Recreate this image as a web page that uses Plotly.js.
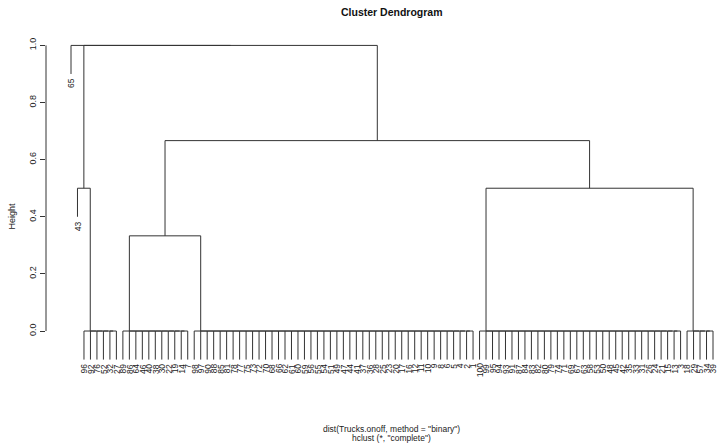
<!DOCTYPE html>
<html>
<head>
<meta charset="utf-8">
<script src="https://cdn.plot.ly/plotly-3.0.1.min.js"></script>
<style>html,body{margin:0;padding:0;background:#fff;}#chart{width:720px;height:444px;}</style>
</head>
<body>
<div id="chart"></div>
<script>
// ---- data ----
const outlierA = "65";
const outlierB = "43";
const group1  = ["96","92","76","52","32","27"];
const group2a = ["89","86","64","46","40","38","30","22","19","14","7"];
const group2b = ["98","97","90","88","85","81","78","77","75","73","72","70","68","66","62","61","60","59","56","55","54","51","49","47","44","41","37","36","28","25","23","20","17","16","12","11","10","9","8","6","5","4","2","1"];
const group3  = ["100","99","95","94","93","91","87","84","83","82","80","79","74","71","69","67","63","58","53","50","48","45","42","35","33","31","26","24","21","15","13","3"];
const group4  = ["18","29","57","34","39"];
const hRoot = 1.0;
const hInner = 1.0;
const h43 = 0.5;
const hMid = 0.6667;
const hLeft = 0.3333;
const hRight = 0.5;
const hTie = 0.0;
const hang = 0.1;
const yTickVals = [0, 0.2, 0.4, 0.6, 0.8, 1.0];
const yTickText = ["0.0", "0.2", "0.4", "0.6", "0.8", "1.0"];

// ---- tree construction ----
function leaf(lab){ return {leaf:true, label:lab}; }
function node(h, a, b){ return {leaf:false, h:h, l:a, r:b}; }
function chain(labels){
  let t = leaf(labels[labels.length-1]);
  for (let i = labels.length-2; i >= 0; i--) t = node(hTie, leaf(labels[i]), t);
  return t;
}
const tree = node(hRoot, leaf(outlierA),
  node(hInner,
    node(h43, leaf(outlierB), chain(group1)),
    node(hMid,
      node(hLeft, chain(group2a), chain(group2b)),
      node(hRight, chain(group3), chain(group4)))));

let counter = 0;
const leaves = [];
function layoutTree(t){
  if (t.leaf){ counter++; t.x = counter; leaves.push(t); return; }
  layoutTree(t.l); layoutTree(t.r);
  t.x = (t.l.x + t.r.x) / 2;
}
layoutTree(tree);

const xs = [], ys = [];
function drawTree(t){
  if (t.leaf) return;
  for (const c of [t.l, t.r]) {
    const bottom = c.leaf ? t.h - hang : c.h;
    if (c.leaf) c.yEnd = bottom;
    xs.push(c.x, c.x, null); ys.push(t.h, bottom, null);
  }
  xs.push(t.l.x, t.r.x, null); ys.push(t.h, t.h, null);
  drawTree(t.l); drawTree(t.r);
}
drawTree(tree);

const nLeaves = leaves.length;
const font = "Liberation Sans, Arial, Helvetica, sans-serif";
const annotations = leaves.map(l => ({
  x: l.x, y: l.yEnd, xref: "x", yref: "y", text: l.label, showarrow: false,
  textangle: -90, xanchor: "center", yanchor: "top", yshift: -2,
  font: {family: font, size: 8.5, color: "#1a1a1a"}
}));
annotations.push(
  {text: "<b>Cluster Dendrogram</b>", xref: "paper", yref: "paper", x: 0.513, y: 1.066, showarrow: false,
   xanchor: "center", yanchor: "middle", font: {family: font, size: 10.5, color: "#111"}},
  {text: "Height", xref: "paper", yref: "paper", x: -0.051, y: 0.46, showarrow: false, textangle: -90,
   xanchor: "center", yanchor: "middle", font: {family: font, size: 9, color: "#222"}},
  {text: "dist(Trucks.onoff, method = \"binary\")", xref: "paper", yref: "paper", x: 0.513, y: -0.172, showarrow: false,
   xanchor: "center", yanchor: "middle", font: {family: font, size: 8.5, color: "#222"}},
  {text: "hclust (*, \"complete\")", xref: "paper", yref: "paper", x: 0.513, y: -0.199, showarrow: false,
   xanchor: "center", yanchor: "middle", font: {family: font, size: 8.5, color: "#222"}}
);

const plotW = 674;
const leftPad = 25;
const pxPerUnit = 642 / (nLeaves - 1);
const xRange = [1 - leftPad / pxPerUnit, 1 + (plotW - leftPad) / pxPerUnit];

const data = [{
  x: xs, y: ys, type: "scatter", mode: "lines",
  line: {color: "#333", width: 1}, hoverinfo: "skip", showlegend: false
}];
const layout = {
  width: 720, height: 444,
  margin: {l: 46, r: 0, t: 34, b: 73, pad: 0},
  paper_bgcolor: "#fff", plot_bgcolor: "#fff",
  showlegend: false,
  xaxis: {visible: false, range: xRange, fixedrange: true},
  yaxis: {range: [-0.14, 1.04], showgrid: false, zeroline: false, showline: false,
          ticks: "outside", ticklen: 5, tickcolor: "#333", tickwidth: 1,
          tickvals: yTickVals, ticktext: yTickText, tickangle: -90,
          tickfont: {family: font, size: 9, color: "#222"}, fixedrange: true},
  shapes: [{type: "line", xref: "paper", yref: "y", x0: 0, x1: 0, y0: 0, y1: 1,
            line: {color: "#333", width: 1}}],
  annotations: annotations
};
Plotly.newPlot("chart", data, layout, {staticPlot: true, displayModeBar: false});
</script>
</body>
</html>
